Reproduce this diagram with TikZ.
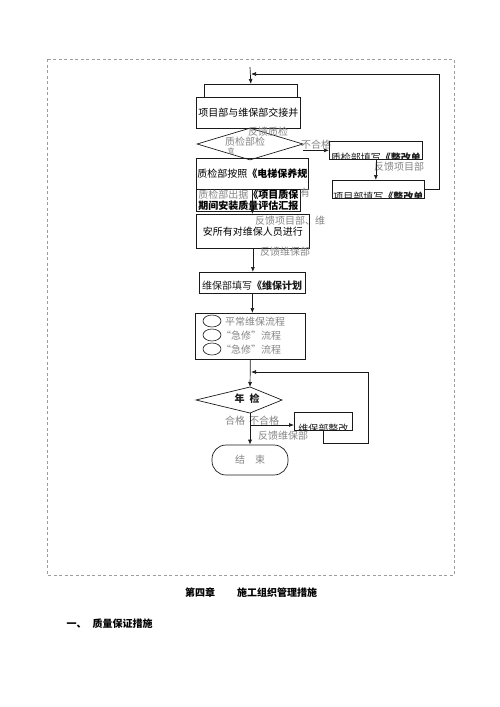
\documentclass[tikz,border=0pt]{standalone}
\usepackage{fontspec}
\usepackage{xcolor}
\newfontfamily\cjk{Noto Sans CJK SC}
\usetikzlibrary{arrows.meta, positioning, shapes.geometric}
\definecolor{flowink}{HTML}{1A1A1A}
\definecolor{flowgray}{HTML}{858585}
\definecolor{framegray}{HTML}{9C9C9C}

\begin{document}
\begin{tikzpicture}[
        x=1pt, y=-1pt,
        font=\cjk\fontsize{10}{11}\selectfont,
        flowbox/.style={
            rectangle,
            draw=flowink,
            line width=0.7pt,
            inner sep=0pt,
            anchor=north west
        },
        decide/.style={
            diamond,
            draw=flowink,
            line width=0.7pt,
            inner sep=0pt
        },
        ends/.style={
            rectangle,
            rounded corners=14pt,
            draw=flowink,
            line width=0.7pt,
            text=flowgray,
            minimum width=76pt,
            minimum height=30pt
        },
        oval/.style={ellipse, draw=flowink, line width=0.6pt, minimum width=18pt, minimum height=12pt, inner sep=0pt},
        note/.style={text=flowgray, inner sep=0pt},
        boxtext/.style={text=flowink, inner sep=0pt},
        arrow/.style={-{Latex[length=5pt, width=4pt]}, line width=0.7pt, draw=flowink}
    ]
        \useasboundingbox (0,0) rectangle (500,707);
        \draw[framegray, dash pattern=on 3pt off 2.5pt, line width=0.8pt] (47,59) rectangle (454,575);

        % hand-over and first check
        \coordinate (entry) at (250,67);
        \node[flowbox, minimum width=93pt, minimum height=13pt] (handtop) at (204,84) {};
        \node[flowbox, minimum width=104pt, minimum height=31pt] (hand) at (196,97) {项目部与维保部交接并};
        \node[decide, minimum width=106pt, minimum height=32pt] (check1) at (250,144) {};
        \node[note] (fbcheck) at (268,132) {反馈质检};
        \node[note] (chk1) at (245,142) {质检部检};
        \node[note, font=\cjk\fontsize{7}{8}\selectfont] (chk1b) at (231,151) {查};
        \node[note] (ng1) at (316,145) {不合格};

        % rework loop (top)
        \node[flowbox, minimum width=93pt, minimum height=18pt] (qcform) at (329,141) {};
        \begin{scope}
            \clip (qcform.north west) rectangle (qcform.south east);
            \node[boxtext] (qcformtxt) at ([yshift=2pt]qcform.south) {质检部填写\textbf{《整改单}};
        \end{scope}
        \node[note] (fbpm) at (399,167) {反馈项目部};
        \node[flowbox, minimum width=92pt, minimum height=18pt] (pmform) at (332,180) {};
        \begin{scope}
            \clip (pmform.north west) rectangle (pmform.south east);
            \node[boxtext] (pmformtxt) at ([yshift=2pt]pmform.south) {项目部填写\textbf{《整改单}};
        \end{scope}
        \coordinate (loopT) at (439,74);
        \coordinate (joinA) at (251,74);

        % inspection and training
        \node[flowbox, minimum width=112pt, minimum height=31pt] (std) at (196,158) {质检部按照\textbf{《电梯保养规}};
        \node[flowbox, minimum width=104pt, minimum height=22pt, align=center] (report) at (196,189)
            {{\color{flowgray}质检部出据}\textbf{《项目质保}\\\textbf{期间安装质量评估汇报}};
        \node[note] (you) at (305,193) {有};
        \node[flowbox, minimum width=113pt, minimum height=34pt] (train) at (196,214) {安所有对维保人员进行};
        \node[note] (fbpm2) at (290,221) {反馈项目部、维};
        \node[note] (fbmt) at (285,252) {反馈维保部};

        % plan and flows
        \node[flowbox, minimum width=106pt, minimum height=21pt] (plan) at (199,272) {};
        \node[boxtext] (plantxt) at (252,286) {维保部填写\textbf{《维保计划}};
        \node[flowbox, minimum width=110pt, minimum height=46pt] (flows) at (195,313) {};
        \node[oval] (o1) at (212,321) {};
        \node[oval] (o2) at (212,335) {};
        \node[oval] (o3) at (212,349) {};
        \node[note, anchor=west] (f1) at (225,322) {平常维保流程};
        \node[note, anchor=west] (f2) at (221,336) {“急修”流程};
        \node[note, anchor=west] (f3) at (221,350) {“急修”流程};

        % yearly check
        \coordinate (ck2l) at (196,400);
        \coordinate (ck2t) at (250,387);
        \coordinate (ck2r) at (282,400);
        \coordinate (ck2b) at (250,413);
        \draw[flowink, line width=0.7pt] (ck2l) -- (ck2t) -- (ck2r) -- (ck2b) -- cycle;
        \node[boxtext, font=\cjk\bfseries\fontsize{10}{11}\selectfont] (check2) at (247,399) {年\hspace{5pt}检};
        \node[note] (ok2) at (235,421) {合格};
        \node[note] (ng2) at (264,421) {不合格};
        \node[note] (fbmt2) at (283,436) {反馈维保部};
        \node[flowbox, minimum width=58pt, minimum height=18pt] (rework) at (294,412) {};
        \begin{scope}
            \clip (rework.north west) rectangle (rework.south east);
            \node[boxtext] (reworktxt) at ([yshift=2pt]rework.south) {维保部整改};
        \end{scope}
        \coordinate (branch) at (250,425);
        \coordinate (loopR) at (368,443);
        \coordinate (joinB) at (251,372);
        \node[ends] (finish) at (250,460) {结\hspace{10pt}束};

        \draw[arrow] (entry) -- (handtop.north);
        \draw[arrow] (check1.east |- qcform.west) -- (qcform.west);
        \draw[arrow] (qcform.south) -- (qcform.south |- pmform.north);
        \draw[arrow] (pmform.east) -| (loopT) -- (joinA);
        \draw[arrow] (std.south) -- (std.south |- train.north);
        \draw[arrow] (train.south) -- (train.south |- plan.north);
        \draw[arrow] (plan.south) -- (plan.south |- flows.north);
        \draw[arrow] (flows.south) -- (ck2t);
        \draw[arrow] (ck2b) -- (finish.north);
        \draw[arrow] (branch) -- (rework.west |- branch);
        \draw[arrow] (rework.south) |- (loopR) |- (joinB);

        % heading below the chart
        \begin{scope}[font=\cjk\bfseries\fontsize{10}{12}\selectfont]
            \node (chap) at (200,593) {第四章};
            \node (ctitle) at (277,593) {施工组织管理措施};
            \node[anchor=west] (sect) at (63,624) {一、\hspace{6pt}质量保证措施};
        \end{scope}
    \end{tikzpicture}
\end{document}
